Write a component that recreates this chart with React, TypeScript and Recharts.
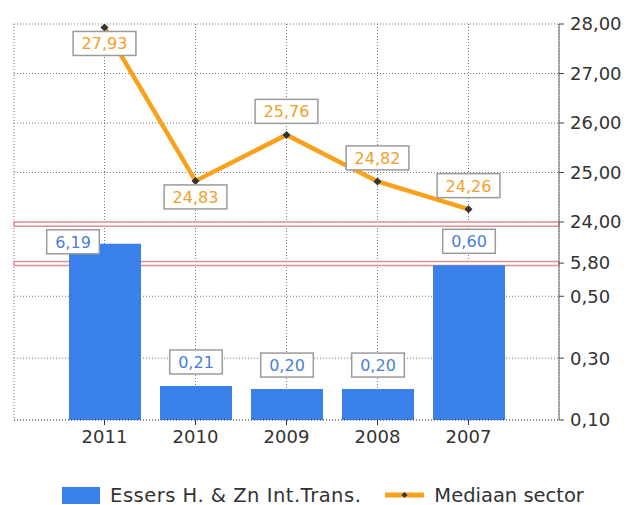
import React from "react";
import {Bar, CartesianGrid, ComposedChart, LabelList, Legend, Line, ReferenceArea, XAxis, YAxis} from "recharts";

const years = ["2011", "2010", "2009", "2008", "2007"];
const companyValues = [6.19, 0.21, 0.2, 0.2, 0.6];
const medianValues = [27.93, 24.83, 25.76, 24.82, 24.26];
const axisTickValues = [0.1, 0.3, 0.5, 5.8, 24, 25, 26, 27, 28];
const seriesNames = ["Essers H. & Zn Int.Trans.", "Mediaan sector"];

const FONT = "DejaVu Sans, Verdana, sans-serif";
const BLUE = "#3980ea";
const ORANGE = "#f9a11b";

// broken value axis: low part stretched, middle part and top part at normal scale
const AXIS_MIN = 20;
const AXIS_MAX = 28;
const LOW_FROM = 0.1;
const LOW_TO = 0.6;
const LOW_GAIN = 6.25;
const MID_FROM = 5.8;
const MID_AT = 23.17;
const lowBreak = [23.12, 23.2];
const highBreak = [23.915, 24.0];

const toAxis = (v: number) =>
    v <= LOW_TO ? AXIS_MIN + (v - LOW_FROM) * LOW_GAIN : v < 24 ? MID_AT + (v - MID_FROM) : v;

const fmt = (v: number) => v.toFixed(2).replace(".", ",");

const axisTicks = axisTickValues.map(toAxis);
const tickLabel = (d: number) => {
    const i = axisTicks.findIndex(t => Math.abs(t - d) < 1e-6);
    return i < 0 ? "" : fmt(axisTickValues[i]);
};

const data = years.map((year, i) => ({
    year,
    company: toAxis(companyValues[i]),
    companyValue: companyValues[i],
    median: medianValues[i],
}));

const textWidth = (s: string) => s.split("").reduce((w, c) => w + (c === "," ? 0.318 : 0.636), 0) * 16;

const ValueBox = (props: { cx: number; top: number; text: string; color: string }) => {
    const w = textWidth(props.text) + 17;
    return <g>
        <rect x={props.cx - w / 2} y={props.top} width={w} height={24} fill="#fff" stroke="#9b9b9b" strokeWidth={1.5}/>
        <text x={props.cx} y={props.top + 12.5} textAnchor="middle" dominantBaseline="central"
              fontSize={16} fontFamily={FONT} fill={props.color}>{props.text}</text>
    </g>;
};

const BarValueLabel = (props: any) => {
    const {x, y, width, value} = props;
    if (value > LOW_TO) {
        // bar runs through the break: label sits on its top-left corner
        return <ValueBox cx={x + 4} top={y - 14} text={fmt(value)} color="#4a7fd8"/>;
    }
    return <ValueBox cx={x + width / 2} top={y - 36} text={fmt(value)} color="#4a7fd8"/>;
};

const LineValueLabel = (props: any) => {
    const {x, y, value, index} = props;
    const prev = medianValues[index - 1];
    const next = medianValues[index + 1];
    const below = (index === 0 && value === Math.max(...medianValues)) ||
        (prev !== undefined && next !== undefined && value < prev && value < next);
    return <ValueBox cx={x} top={below ? y + 4 : y - 35.5} text={fmt(value)} color="#f0a02c"/>;
};

const Diamond = (props: any) => {
    const {cx, cy} = props;
    if (cx == null || cy == null) return null;
    return <polygon points={`${cx},${cy - 4} ${cx + 4},${cy} ${cx},${cy + 4} ${cx - 4},${cy}`} fill="#333"/>;
};

const ChartLegend = () => <div style={{
    height: 34, boxSizing: "border-box", paddingTop: 14, display: "flex", justifyContent: "center",
    alignItems: "center", fontFamily: FONT, fontSize: 19.5, color: "#333",
}}>
    <div style={{width: 38, height: 17, background: BLUE, marginRight: 10}}/>
    <span style={{marginRight: 24, whiteSpace: "nowrap", letterSpacing: 0.5}}>{seriesNames[0]}</span>
    <svg width={39} height={10} style={{marginRight: 10}}>
        <rect x={0} y={2.5} width={39} height={5} fill={ORANGE}/>
        <polygon points="19.5,2 22.5,5 19.5,8 16.5,5" fill="#333"/>
    </svg>
    <span style={{whiteSpace: "nowrap"}}>{seriesNames[1]}</span>
</div>;

// the hidden number axis spans the whole plot width (index 0 .. last)
const fullSpan = [0, years.length - 1];

export default function App() {
    return <div style={{position: "absolute", left: 0, top: 0}}>
        <ComposedChart width={637} height={505} data={data} margin={{top: 24, right: 5, left: 14, bottom: 0}}
                       style={{fontFamily: FONT}}>
            <CartesianGrid stroke="#777" strokeDasharray="1 2"/>
            <XAxis dataKey="year" interval={0} padding={{left: 45, right: 45}} height={51}
                   tickSize={5} tickMargin={5} tickLine={{stroke: "#333"}}
                   axisLine={{stroke: "#555", strokeDasharray: "1 2"}}
                   tick={{fontSize: 18, fill: "#333", fontFamily: FONT}}/>
            <XAxis xAxisId="full" type="number" domain={fullSpan} allowDataOverflow hide/>
            <YAxis yAxisId="left" orientation="left" width={0} type="number" domain={[0, 1]}
                   tick={false} tickLine={false} axisLine={{stroke: "#777", strokeDasharray: "1 2"}}/>
            <YAxis orientation="right" width={73} type="number" domain={[AXIS_MIN, AXIS_MAX]}
                   allowDataOverflow ticks={axisTicks} interval={0} tickFormatter={tickLabel}
                   tickSize={5} tickMargin={6} axisLine={{stroke: "#666"}} tickLine={{stroke: "#444"}}
                   tick={{fontSize: 18, fill: "#333", fontFamily: FONT}}/>
            <Bar dataKey="company" name={seriesNames[0]} fill={BLUE} barSize={72} isAnimationActive={false}>
                <LabelList dataKey="companyValue" content={BarValueLabel}/>
            </Bar>
            <ReferenceArea xAxisId="full" x1={fullSpan[0]} x2={fullSpan[1]} y1={lowBreak[0]} y2={lowBreak[1]}
                           fill="#fff" fillOpacity={1} stroke="#e08e8e" strokeWidth={1.5}/>
            <ReferenceArea xAxisId="full" x1={fullSpan[0]} x2={fullSpan[1]} y1={highBreak[0]} y2={highBreak[1]}
                           fill="#fff" fillOpacity={1} stroke="#e08e8e" strokeWidth={1.5}/>
            <Line dataKey="median" name={seriesNames[1]} stroke={ORANGE} strokeWidth={4.5}
                  dot={<Diamond/>} activeDot={false} isAnimationActive={false}>
                <LabelList dataKey="median" content={LineValueLabel}/>
            </Line>
            <Legend verticalAlign="bottom" content={ChartLegend}/>
        </ComposedChart>
    </div>;
}
